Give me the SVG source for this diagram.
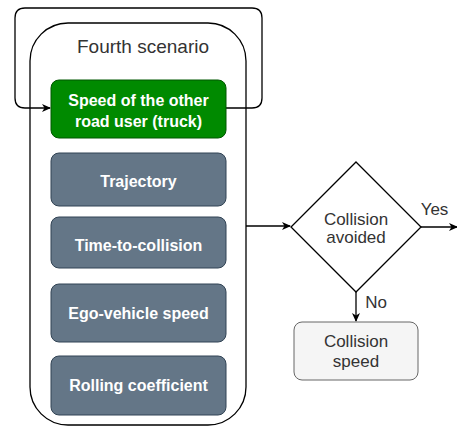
<svg xmlns="http://www.w3.org/2000/svg" width="457" height="426" viewBox="0 0 457 426">
<style>
.gray{fill:#647687;stroke:#314354;stroke-width:1}
.wt{font-family:"Liberation Sans",Arial,sans-serif;font-size:16px;font-weight:bold;fill:#ffffff;text-anchor:middle}
.dt{font-family:"Liberation Sans",Arial,sans-serif;font-size:17px;fill:#333333;text-anchor:middle}
.ln{fill:none;stroke:#000000;stroke-width:1.3}
</style>
<defs>
<marker id="ah" markerWidth="10" markerHeight="10" refX="8" refY="5" orient="auto" markerUnits="userSpaceOnUse">
<path d="M0,1 L9,5 L0,9 L2.5,5 Z" fill="#000"/>
</marker>
</defs>
<g id="container">
<rect x="30" y="23" width="216" height="402" rx="38" ry="38" fill="#ffffff" stroke="#000000" stroke-width="1.3"/>
<text x="143" y="53" class="dt" style="font-size:19px">Fourth scenario</text>
</g>
<g id="connectors">
<path class="ln" d="M226,108 H252 Q262,108 262,98 V18 Q262,8 252,8 H25 Q15,8 15,18 V98 Q15,108 25,108 H50" marker-end="url(#ah)"/>
<path class="ln" d="M246,226 H290" marker-end="url(#ah)"/>
<path class="ln" d="M421,227 H457" marker-end="url(#ah)"/>
<path class="ln" d="M356,292 V321" marker-end="url(#ah)"/>
<text x="434.5" y="215" class="dt">Yes</text>
<text x="376" y="308" class="dt">No</text>
</g>
<g id="speed-other">
<rect x="51" y="80" width="175" height="58" rx="8" fill="#008a00" stroke="#005700"/>
<text x="138.5" y="106" class="wt">Speed of the other</text>
<text x="138.5" y="127" class="wt">road user (truck)</text>
</g>
<g id="trajectory">
<rect x="51" y="153" width="175" height="53" rx="8" class="gray"/>
<text x="138.5" y="187" class="wt">Trajectory</text>
</g>
<g id="ttc">
<rect x="51" y="217" width="175" height="51" rx="8" class="gray"/>
<text x="138.5" y="251" class="wt">Time-to-collision</text>
</g>
<g id="ego-speed">
<rect x="51" y="284" width="175" height="58" rx="8" class="gray"/>
<text x="138.5" y="319" class="wt">Ego-vehicle speed</text>
</g>
<g id="rolling">
<rect x="51" y="356" width="175" height="59" rx="8" class="gray"/>
<text x="138.5" y="391" class="wt">Rolling coefficient</text>
</g>
<g id="decision">
<path d="M356,162 L421,227 L356,292 L291,227 Z" fill="#ffffff" stroke="#000000" stroke-width="1.3"/>
<text x="356" y="225" class="dt">Collision</text>
<text x="356" y="243" class="dt">avoided</text>
</g>
<g id="collision-speed">
<rect x="294" y="322" width="124" height="58" rx="8" fill="#f5f5f5" stroke="#666666"/>
<text x="356" y="347" class="dt">Collision</text>
<text x="356" y="367" class="dt">speed</text>
</g>
</svg>
